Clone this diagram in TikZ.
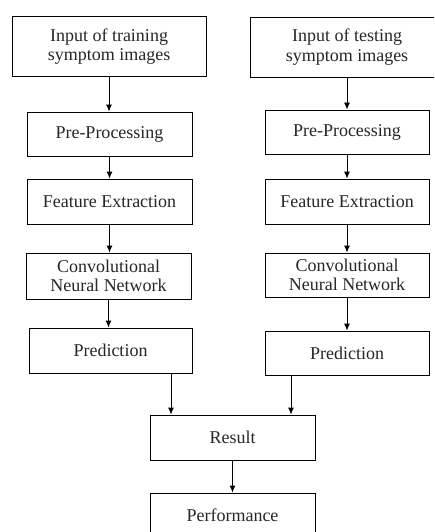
\documentclass[tikz,border=0pt]{standalone}
\usepackage{fontspec}
\setmainfont{Liberation Serif}
\usetikzlibrary{arrows.meta}

\begin{document}
\begin{tikzpicture}
[x=1pt,y=-1pt,
  boxDecorate/.style={shape=rectangle,draw,line width=0.9pt,align=center,
    inner sep=0pt,font=\fontsize{18}{19.5}\selectfont,text=black!85},%
  arrowDecorate/.style={line width=0.9pt,-{Latex[length=7pt,width=6pt]}}]
\path[use as bounding box,clip] (0,0) rectangle (434,532);
%% boxes of both columns
\foreach \nodename/\x/\y/\w/\h/\txt in {
  inL/109/46.5/194/60/{Input of training\\symptom images},
  ppL/109.5/134/165/44/{Pre-Processing},
  feL/109.5/201.5/165/45/{Feature Extraction},
  cnnL/108.5/276/165/46/{Convolutional\\Neural Network},
  predL/110.5/350.5/163/45/{Prediction},
  inR/347/47/194/60/{Input of testing\\symptom images},
  ppR/347/132/164/44/{Pre-Processing},
  feR/347/201.5/164/45/{Feature Extraction},
  cnnR/347/275/164/44/{Convolutional\\Neural Network},
  predR/347/353/164/44/{Prediction},
  result/232.5/437.5/165/45/{Result},
  perf/232.5/515.5/165/45/{Performance}} {
  \node (\nodename) at (\x,\y) [boxDecorate,minimum width=\w pt,minimum height=\h pt] {\txt};
}
%% arrows down each column
\foreach \startnode/\endnode in {inL/ppL, ppL/feL, feL/cnnL, cnnL/predL,
  inR/ppR, ppR/feR, feR/cnnR, cnnR/predR, result/perf} {
  \draw[arrowDecorate] (\startnode.south) -- (\startnode.south |- \endnode.north);
}
%% arrows into the result
\coordinate (jL) at (171,0);
\coordinate (jR) at (291,0);
\draw[arrowDecorate] (predL.south -| jL) -- (result.north -| jL);
\draw[arrowDecorate] (predR.south -| jR) -- (result.north -| jR);
\end{tikzpicture}
\end{document}
